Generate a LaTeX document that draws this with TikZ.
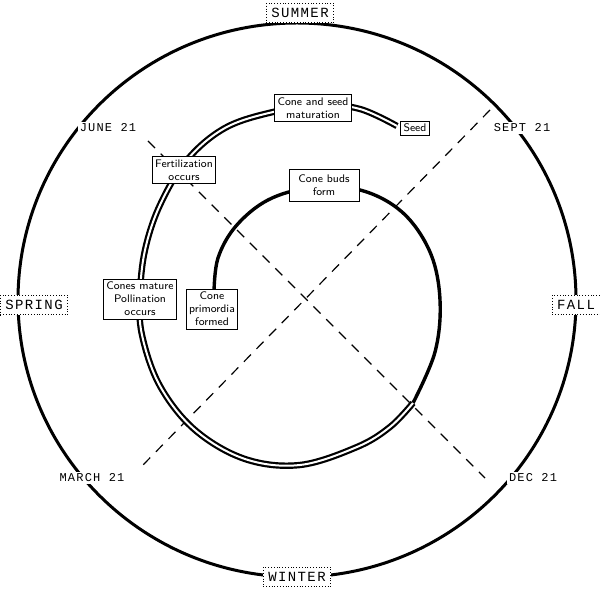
\documentclass[tikz,border=0pt]{standalone}
\usepackage{fontspec}
\usetikzlibrary{positioning}
\newfontfamily\markfont[LetterSpace=10]{Liberation Mono}
\begin{document}
\begin{tikzpicture}[x=0.5pt, y=-0.5pt,
		season/.style={draw, densely dotted, fill=white, inner sep=2.5pt, font=\markfont\fontsize{7}{8}\selectfont},
		datemark/.style={fill=white, inner sep=1pt, font=\markfont\fontsize{6}{7}\selectfont},
		stage/.style={draw, thin, fill=white, align=center, inner sep=1.5pt, font=\sffamily\fontsize{5.5}{6.5}\selectfont},
		quarter/.style={dash pattern=on 5pt off 4pt, line width=0.6pt}]
	\useasboundingbox (0,0) rectangle (600,592);
	%year circle
	\draw [line width=1.5pt] (297,300) ellipse [x radius=279, y radius=277];
	%quarter lines
	\coordinate (jd1) at (148,141);
	\coordinate (jd2) at (485,478);
	\coordinate (sm1) at (490,110);
	\coordinate (sm2) at (143,465);
	\draw [quarter] (jd1) -- (jd2);
	\draw [quarter] (sm1) -- (sm2);
	%spiral, single part
	\draw [line width=1.7pt] plot [smooth, tension=0.6] coordinates {(214,292) (218,258) (236,226) (268,200) (310,188) (360,190) (402,212) (430,252) (440,300) (435,352) (413,403)};
	%spiral, double part
	\draw [line width=1.1pt, double=white, double distance=1pt] plot [smooth, tension=0.6] coordinates {(413,403) (390,427) (357,447) (300,465) (245,459) (195,430) (160,386) (142,335) (140,295) (145,250) (160,205) (187,160) (225,128) (273,112) (320,105) (360,109) (397,126)};
	%seasons
	\node [season] (summer) at (300,13) {SUMMER};
	\node [season] (winter) at (297,577) {WINTER};
	\node [season] (spring) at (34,305) {SPRING};
	\node [season] (fall) at (576,305) {FALL};
	%dates
	\node [datemark] (june) at (108,128) {JUNE 21};
	\node [datemark] (sept) at (522,128) {SEPT 21};
	\node [datemark] (march) at (92,478) {MARCH 21};
	\node [datemark] (dec) at (533,478) {DEC 21};
	%stages
	\node [stage] (maturation) at (313,108) {Cone and seed\\maturation};
	\node [stage] (seed) at (415,128) {Seed};
	\node [stage] (fertilization) at (184,170) {Fertilization\\occurs};
	\node [stage, minimum width=35pt, minimum height=16pt] (buds) at (324,185) {Cone buds\\form};
	\node [stage] (pollination) at (140,299) {Cones mature\\Pollination\\occurs};
	\node [stage] (primordia) at (212,309) {Cone\\primordia\\formed};
\end{tikzpicture}
\end{document}
